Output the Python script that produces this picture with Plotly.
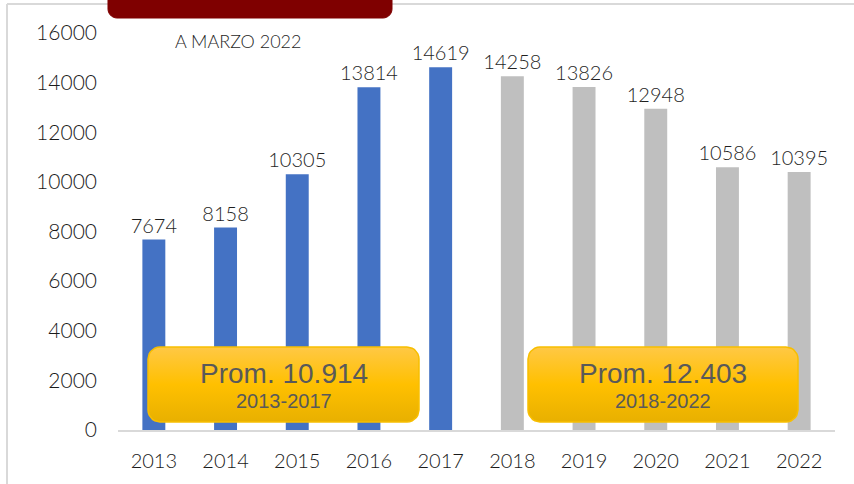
import numpy as np
import plotly.graph_objects as go

years = ["2013", "2014", "2015", "2016", "2017", "2018", "2019", "2020", "2021", "2022"]
values = [7674, 8158, 10305, 13814, 14619, 14258, 13826, 12948, 10586, 10395]
colors = ["#4472C4"] * 5 + ["#BFBFBF"] * 5
subtitle = "A MARZO 2022"
avg_labels = [("Prom. 10.914", "2013-2017"), ("Prom. 12.403", "2018-2022")]

W, H = 854, 484
L, R, T, B = 118, 19, 33, 54
PW, PH = W - L - R, H - T - B
FONT = "Lato"

def pxx(x):
    return (x - L) / PW

def pxy(y):
    return (H - B - y) / PH

def rrect(x0, y0, x1, y1, r, n=8):
    pts = []
    corners = [(x1 - r, y0 + r, -90, 0), (x1 - r, y1 - r, 0, 90),
               (x0 + r, y1 - r, 90, 180), (x0 + r, y0 + r, 180, 270)]
    for cx, cy, a0, a1 in corners:
        for a in np.linspace(np.radians(a0), np.radians(a1), n):
            pts.append((cx + r * np.cos(a), cy + r * np.sin(a)))
    pts.append(pts[0])
    return pts

def path_paper(pts):
    return "M " + " L ".join(f"{pxx(x):.5f},{pxy(y):.5f}" for x, y in pts) + " Z"

fig = go.Figure()
fig.add_trace(go.Bar(
    x=years, y=values, marker=dict(color=colors, line=dict(width=0)),
    text=[str(v) for v in values],
    textposition="outside", cliponaxis=False, constraintext="none",
    textfont=dict(family=FONT, size=20, color="#1f1f1f", weight=300),
    hoverinfo="skip"))

boxes = [(148, 347, 419, 422), (528, 347, 798, 422)]
for (x0, y0, x1, y1), (big, small) in zip(boxes, avg_labels):
    pts = rrect(x0, y0, x1, y1, 12)
    fig.add_trace(go.Scatter(
        x=[p[0] for p in pts], y=[p[1] for p in pts], xaxis="x2", yaxis="y2",
        mode="lines", fill="toself", line=dict(color="#F7BE00", width=1.5),
        fillgradient=dict(type="vertical", start=y0, stop=y1,
                          colorscale=[[0, "#FFC845"], [0.5, "#FFC000"], [1, "#E8B000"]]),
        hoverinfo="skip", showlegend=False))
    cx = (x0 + x1) / 2
    fig.add_annotation(x=pxx(cx), y=pxy(373), xref="paper", yref="paper",
                       xanchor="center", yanchor="middle",
                       text=big, showarrow=False,
                       font=dict(family="Liberation Sans", size=28, color="#595959"))
    fig.add_annotation(x=pxx(cx), y=pxy(401), xref="paper", yref="paper",
                       xanchor="center", yanchor="middle",
                       text=small, showarrow=False,
                       font=dict(family="Liberation Sans", size=20, color="#595959"))

shapes = []
shapes.append(dict(type="line", xref="paper", yref="paper", x0=pxx(7), x1=pxx(7),
                   y0=pxy(4), y1=pxy(H + 5), line=dict(color="#D9D9D9", width=2)))
shapes.append(dict(type="line", xref="paper", yref="paper", x0=pxx(7), x1=pxx(W + 5),
                   y0=pxy(4), y1=pxy(4), line=dict(color="#D9D9D9", width=2)))
shapes.append(dict(type="path", xref="paper", yref="paper",
                   path=path_paper(rrect(108, -20, 392, 18, 9)),
                   fillcolor="#7F0000", line=dict(color="#7F0000", width=1)))
fig.update_layout(shapes=shapes)

fig.add_annotation(x=pxx(238), y=pxy(41), xref="paper", yref="paper", text=subtitle,
                   xanchor="center", yanchor="middle",
                   showarrow=False, font=dict(family=FONT, size=18, color="#1f1f1f", weight=300))

fig.update_layout(
    width=W, height=H, margin=dict(l=L, r=R, t=T, b=B),
    paper_bgcolor="white", plot_bgcolor="white", showlegend=False,
    bargap=0.68, font=dict(family=FONT, color="#1a1a1a"),
    xaxis=dict(type="category", showgrid=False, showline=True, linecolor="#D9D9D9",
               linewidth=2, ticks="", tickfont=dict(size=20, color="#1a1a1a", weight=300),
               ticklabelstandoff=12),
    yaxis=dict(range=[0, 16000], dtick=2000, tickformat="d", showgrid=False,
               zeroline=False, showline=False, ticks="",
               tickfont=dict(size=21, color="#1a1a1a", weight=300), ticklabelstandoff=20),
    xaxis2=dict(overlaying="x", range=[L, W - R], visible=False),
    yaxis2=dict(overlaying="y", range=[H - B, T], visible=False),
)

fig.write_html("out.html")
